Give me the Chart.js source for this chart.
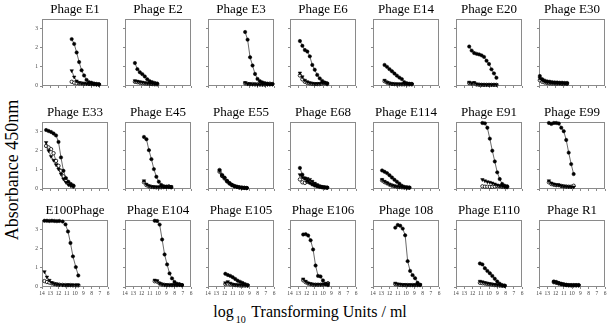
<!DOCTYPE html>
<html>
<head>
<meta charset="utf-8">
<script src="https://cdn.jsdelivr.net/npm/chart.js@4.4.0/dist/chart.umd.min.js"></script>
<style>
  html, body { margin: 0; padding: 0; background: #fff; }
  #wrap { position: relative; width: 608px; height: 330px; overflow: hidden; font-family: 'Liberation Serif', 'Times New Roman', serif; }
  #wrap canvas { position: absolute; }
  .axis-title { position: absolute; color: #000; white-space: nowrap; }
  #yTitle { left: -88px; top: 160px; width: 200px; height: 20px; line-height: 20px; text-align: center; transform: rotate(-90deg); font-size: 18px; }
  #xTitle { left: 0; top: 303px; width: 620px; text-align: center; font-size: 16px; }
  #xTitle sub { font-size: 10px; vertical-align: -6px; margin: 0 2px; }
</style>
</head>
<body>
<div id="wrap">
  <div class="axis-title" id="yTitle">Absorbance 450nm</div>
  <div class="axis-title" id="xTitle">log<sub>10</sub> Transforming Units / ml</div>
</div>
<script>
// panel titles, left to right, top to bottom
const panelTitles = [
  'Phage E1', 'Phage E2', 'Phage E3', 'Phage E6', 'Phage E14', 'Phage E20', 'Phage E30',
  'Phage E33', 'Phage E45', 'Phage E55', 'Phage E68', 'Phage E114', 'Phage E91', 'Phage E99',
  'E100Phage', 'Phage E104', 'Phage E105', 'Phage E106', 'Phage 108', 'Phage E110', 'Phage R1'
];

// log10 transforming units / ml for each panel
const doseValues = [
  [10.4, 10.1, 9.8, 9.5, 9.2, 8.9, 8.6, 8.3, 8.0, 7.7, 7.4, 7.1],
  [12.8, 12.5, 12.2, 11.9, 11.6, 11.3, 11.0, 10.7, 10.4, 10.1],
  [9.5, 9.2, 8.9, 8.6, 8.3, 8.0, 7.7, 7.4, 7.1, 6.8, 6.5, 6.2],
  [12.8, 12.5, 12.2, 11.9, 11.6, 11.3, 11.0, 10.7, 10.4, 10.1, 9.8, 9.5],
  [12.6, 12.3, 12.0, 11.7, 11.4, 11.1, 10.8, 10.5, 10.2, 9.9, 9.6, 9.3],
  [12.4, 12.1, 11.8, 11.5, 11.2, 10.9, 10.6, 10.3, 10.0, 9.7, 9.4, 9.1],
  [13.9, 13.6, 13.3, 13.0, 12.7, 12.4, 12.1, 11.8, 11.5, 11.2, 10.9, 10.6],
  [13.5, 13.2, 12.9, 12.6, 12.3, 12.0, 11.7, 11.4, 11.1, 10.8, 10.5, 10.2],
  [11.7, 11.4, 11.1, 10.8, 10.5, 10.2, 9.9, 9.6, 9.3, 9.0, 8.7, 8.4],
  [12.6, 12.3, 12.0, 11.7, 11.4, 11.1, 10.8, 10.5, 10.2, 9.9, 9.6, 9.3],
  [12.8, 12.5, 12.2, 11.9, 11.6, 11.3, 11.0, 10.7, 10.4, 10.1, 9.8, 9.5],
  [12.9, 12.6, 12.3, 12.0, 11.7, 11.4, 11.1, 10.8, 10.5, 10.2, 9.9, 9.6],
  [10.8, 10.5, 10.2, 9.9, 9.6, 9.3, 9.0, 8.7, 8.4, 8.1, 7.8],
  [12.8, 12.5, 12.2, 11.9, 11.6, 11.3, 11.0, 10.7, 10.4, 10.1, 9.8],
  [13.7, 13.4, 13.1, 12.8, 12.5, 12.2, 11.9, 11.5, 11.15, 10.85, 10.55, 10.25, 9.9, 9.6],
  [10.4, 10.1, 9.8, 9.5, 9.2, 8.9, 8.6, 8.3, 8.0, 7.7, 7.4, 7.1],
  [11.9, 11.6, 11.3, 11.0, 10.7, 10.4, 10.1, 9.8, 9.5, 9.2],
  [12.4, 12.1, 11.8, 11.5, 11.2, 10.9, 10.6, 10.3, 10.0, 9.7, 9.4],
  [11.3, 11.0, 10.7, 10.4, 10.1, 9.8, 9.5, 9.2, 8.9, 8.6, 8.3],
  [11.1, 10.8, 10.5, 10.2, 9.9, 9.6, 9.3, 9.0, 8.7, 8.4, 8.1],
  [12.2, 11.9, 11.6, 11.3, 11.0, 10.7, 10.4, 10.1, 9.8, 9.5, 9.2]
];

// absorbance, filled circles
const filledValues = [
  [2.45, 2.2, 1.75, 1.25, 0.82, 0.55, 0.32, 0.2, 0.17, 0.13, 0.11, 0.09],
  [1.2, 0.88, 0.72, 0.62, 0.5, 0.35, 0.25, 0.2, 0.16, 0.13],
  [2.82, 2.42, 1.5, 1.07, 0.63, 0.37, 0.25, 0.19, 0.15, 0.12, 0.1, 0.1],
  [2.35, 2.1, 1.88, 1.8, 1.55, 1.1, 0.85, 0.58, 0.4, 0.27, 0.18, 0.14],
  [1.1, 1.0, 0.88, 0.77, 0.65, 0.54, 0.44, 0.36, 0.2, 0.14, 0.12, 0.11],
  [2.06, 1.85, 1.72, 1.68, 1.65, 1.6, 1.52, 1.32, 1.15, 0.87, 0.66, 0.43],
  [0.52, 0.35, 0.28, 0.24, 0.22, 0.2, 0.19, 0.18, 0.17, 0.17, 0.16, 0.16],
  [3.08, 3.03, 2.98, 2.9, 2.8, 2.46, 1.65, 0.95, 0.57, 0.38, 0.26, 0.18],
  [2.72, 2.6, 2.03, 1.56, 1.04, 0.64, 0.38, 0.21, 0.14, 0.12, 0.1, 0.09],
  [1.0, 0.74, 0.6, 0.43, 0.31, 0.22, 0.16, 0.12, 0.09, 0.07, 0.06, 0.05],
  [1.1, 0.75, 0.55, 0.42, 0.32, 0.24, 0.18, 0.14, 0.11, 0.09, 0.08, 0.07],
  [0.97, 0.9, 0.83, 0.72, 0.6, 0.48, 0.38, 0.28, 0.17, 0.11, 0.08, 0.07],
  [3.45, 3.43, 3.2, 2.63, 2.0, 1.44, 0.87, 0.52, 0.26, 0.17, 0.14],
  [3.45, 3.4, 3.45, 3.45, 3.42, 3.2, 3.02, 2.56, 1.9, 1.3, 0.78],
  [3.46, 3.46, 3.45, 3.46, 3.45, 3.44, 3.45, 3.42, 3.27, 2.9, 2.3, 1.6, 1.04, 0.6],
  [3.46, 3.45, 3.26, 2.48, 1.7, 1.18, 0.71, 0.45, 0.26, 0.17, 0.14, 0.1],
  [0.69, 0.63, 0.58, 0.51, 0.42, 0.33, 0.27, 0.21, 0.15, 0.1],
  [2.74, 2.76, 2.69, 2.44, 1.96, 1.12, 0.58, 0.55, 0.34, 0.16, 0.1],
  [3.1, 3.24, 3.2, 3.05, 2.7, 1.35, 0.84, 0.62, 0.46, 0.22, 0.12],
  [1.23, 1.18, 0.98, 0.84, 0.72, 0.58, 0.43, 0.29, 0.17, 0.1, 0.07],
  [0.29, 0.26, 0.21, 0.17, 0.14, 0.12, 0.1, 0.1, 0.1, 0.1, 0.1]
];

// absorbance, triangles
const triangleValues = [
  [0.8, 0.47, 0.26, 0.18, 0.15, 0.13, 0.12, 0.11, 0.1, 0.09, 0.08, 0.08],
  [0.28, 0.25, 0.22, 0.2, 0.17, 0.15, 0.13, 0.12, 0.11, 0.1],
  [0.18, 0.12, 0.1, 0.09, 0.09, 0.08, 0.08, 0.08, 0.08, 0.08, 0.08, 0.09],
  [0.68, 0.48, 0.3, 0.22, 0.17, 0.14, 0.12, 0.12, 0.13, 0.16, 0.18, 0.12],
  [0.3, 0.2, 0.15, 0.12, 0.11, 0.1, 0.1, 0.1, 0.1, 0.1, 0.1, 0.1],
  [0.2, 0.15, 0.18, 0.1, 0.08, 0.08, 0.07, 0.07, 0.07, 0.07, 0.07, 0.07],
  [0.4, 0.3, 0.24, 0.2, 0.18, 0.17, 0.16, 0.15, 0.15, 0.14, 0.14, 0.14],
  [2.43, 2.0, 1.7, 1.5, 1.27, 1.04, 0.78, 0.52, 0.35, 0.22, 0.17, 0.14],
  [0.43, 0.25, 0.17, 0.13, 0.11, 0.1, 0.1, 0.1, 0.11, 0.12, 0.13, 0.12],
  [0.95, 0.7, 0.57, 0.41, 0.3, 0.21, 0.15, 0.11, 0.09, 0.07, 0.06, 0.05],
  [0.75, 0.62, 0.58, 0.55, 0.5, 0.4, 0.3, 0.22, 0.16, 0.12, 0.1, 0.08],
  [0.5, 0.4, 0.32, 0.25, 0.2, 0.16, 0.13, 0.11, 0.1, 0.09, 0.08, 0.08],
  [0.49, 0.43, 0.38, 0.35, 0.31, 0.26, 0.21, 0.17, 0.14, 0.12, 0.1],
  [0.43, 0.31, 0.26, 0.22, 0.21, 0.17, 0.14, 0.13, 0.12, 0.11, 0.1],
  [0.8, 0.52, 0.35, 0.23, 0.17, 0.14, 0.12, 0.11, 0.1, 0.1, 0.1, 0.1, 0.1, 0.1],
  [0.36, 0.33, 0.2, 0.15, 0.12, 0.11, 0.1, 0.1, 0.1, 0.1, 0.1, 0.1],
  [0.22, 0.28, 0.2, 0.14, 0.12, 0.1, 0.1, 0.09, 0.09, 0.08],
  [0.42, 0.3, 0.21, 0.17, 0.14, 0.13, 0.13, 0.13, 0.14, 0.16, 0.18],
  [0.2, 0.16, 0.14, 0.12, 0.12, 0.11, 0.11, 0.11, 0.11, 0.11, 0.12],
  [0.3, 0.27, 0.23, 0.2, 0.17, 0.15, 0.13, 0.11, 0.09, 0.08, 0.07],
  [0.27, 0.24, 0.2, 0.16, 0.13, 0.11, 0.1, 0.09, 0.09, 0.09, 0.09]
];

// absorbance, open circles
const openValues = [
  [0.22, 0.17, 0.15, 0.14, 0.13, 0.12, 0.12, 0.11, 0.1, 0.1, 0.09, 0.08],
  [0.22, 0.2, 0.17, 0.15, 0.13, 0.12, 0.11, 0.1, 0.09, 0.09],
  [0.14, 0.11, 0.1, 0.1, 0.09, 0.09, 0.09, 0.08, 0.08, 0.1, 0.12, 0.1],
  [0.55, 0.35, 0.22, 0.16, 0.13, 0.11, 0.1, 0.1, 0.1, 0.12, 0.14, 0.1],
  [0.25, 0.18, 0.14, 0.11, 0.1, 0.09, 0.09, 0.09, 0.09, 0.09, 0.09, 0.09],
  [0.15, 0.12, 0.14, 0.08, 0.07, 0.06, 0.06, 0.06, 0.06, 0.06, 0.06, 0.06],
  [0.3, 0.22, 0.18, 0.16, 0.14, 0.13, 0.12, 0.12, 0.12, 0.11, 0.11, 0.11],
  [2.25, 2.17, 2.08, 1.87, 1.47, 1.21, 0.95, 0.66, 0.43, 0.29, 0.2, 0.14],
  [0.35, 0.2, 0.14, 0.11, 0.1, 0.09, 0.09, 0.09, 0.1, 0.11, 0.14, 0.1],
  [0.9, 0.68, 0.55, 0.4, 0.29, 0.2, 0.14, 0.11, 0.08, 0.07, 0.06, 0.05],
  [0.5, 0.35, 0.32, 0.38, 0.4, 0.33, 0.25, 0.18, 0.13, 0.1, 0.08, 0.07],
  [0.45, 0.36, 0.3, 0.23, 0.18, 0.15, 0.12, 0.1, 0.09, 0.08, 0.08, 0.07],
  [0.14, 0.12, 0.12, 0.11, 0.11, 0.13, 0.15, 0.14, 0.12, 0.11, 0.1],
  [0.35, 0.26, 0.22, 0.2, 0.2, 0.16, 0.14, 0.13, 0.12, 0.12, 0.17],
  [0.31, 0.26, 0.23, 0.19, 0.16, 0.14, 0.12, 0.11, 0.1, 0.1, 0.1, 0.09, 0.09, 0.09],
  [0.3, 0.28, 0.18, 0.13, 0.11, 0.1, 0.1, 0.1, 0.1, 0.1, 0.12, 0.1],
  [0.15, 0.18, 0.14, 0.12, 0.1, 0.09, 0.08, 0.08, 0.08, 0.08],
  [0.35, 0.25, 0.18, 0.15, 0.12, 0.12, 0.12, 0.12, 0.13, 0.15, 0.2],
  [0.15, 0.12, 0.11, 0.1, 0.1, 0.1, 0.1, 0.1, 0.1, 0.1, 0.1],
  [0.22, 0.2, 0.18, 0.16, 0.14, 0.12, 0.1, 0.09, 0.08, 0.07, 0.06],
  [0.25, 0.22, 0.18, 0.15, 0.12, 0.1, 0.09, 0.09, 0.09, 0.09, 0.09]
];

const xMin = 6, xMax = 14;   // log10 axis, drawn reversed
const yMin = 0, yMax = 3.5;

// grid layout
const nCols = 7;
const boxLeft0 = 42, colPitch = 82.8;
const rowTops = [19, 122, 220];
const plotW = 66, plotH = 67;
const sideW = 12, xAxisH = 12, titleH = 16;

const serif = "'Liberation Serif', 'Times New Roman', serif";
const axisGray = '#8a8a8a';

const framePlugin = {
  id: 'frame',
  beforeDatasetsDraw(chart) {
    const a = chart.chartArea;
    const ctx = chart.ctx;
    ctx.save();
    ctx.strokeStyle = axisGray;
    ctx.lineWidth = 1;
    ctx.strokeRect(Math.round(a.left) + 0.5, Math.round(a.top) + 0.5, Math.round(a.width) - 1, Math.round(a.height) - 1);
    ctx.restore();
  }
};

function points(xs, ys) {
  return xs.map((x, i) => ({ x: x, y: ys[i] }));
}

const wrap = document.getElementById('wrap');

panelTitles.forEach((title, i) => {
  const col = i % nCols;
  const row = Math.floor(i / nCols);
  const boxLeft = Math.round(boxLeft0 + col * colPitch);

  const canvas = document.createElement('canvas');
  canvas.width = sideW + plotW + sideW;
  canvas.height = titleH + plotH + xAxisH;
  canvas.style.left = (boxLeft - sideW) + 'px';
  canvas.style.top = (rowTops[row] - titleH) + 'px';
  wrap.appendChild(canvas);

  const xs = doseValues[i];

  new Chart(canvas, {
    type: 'line',
    data: {
      datasets: [
        {
          label: 'filled',
          data: points(xs, filledValues[i]),
          borderColor: '#444',
          borderWidth: 0.8,
          pointStyle: 'circle',
          pointRadius: 1.7,
          pointBackgroundColor: '#000',
          pointBorderColor: '#000',
          pointBorderWidth: 0.5,
          clip: false
        },
        {
          label: 'triangle',
          data: points(xs, triangleValues[i]),
          borderColor: '#444',
          borderWidth: 0.8,
          pointStyle: 'triangle',
          pointRotation: 180,
          pointRadius: 2,
          pointBackgroundColor: '#000',
          pointBorderColor: '#000',
          pointBorderWidth: 0.5,
          clip: false
        },
        {
          label: 'open',
          data: points(xs, openValues[i]),
          borderColor: '#444',
          borderWidth: 0.8,
          pointStyle: 'circle',
          pointRadius: 1.7,
          pointBackgroundColor: '#fff',
          pointBorderColor: '#000',
          pointBorderWidth: 0.8,
          clip: false
        }
      ]
    },
    options: {
      responsive: false,
      animation: false,
      devicePixelRatio: 1,
      layout: { padding: 0 },
      plugins: {
        legend: { display: false },
        tooltip: { enabled: false },
        title: {
          display: true,
          text: title,
          color: '#000',
          font: { family: serif, size: 13, weight: 'normal', lineHeight: 1 },
          padding: { top: 0, bottom: 3 }
        }
      },
      scales: {
        x: {
          type: 'linear',
          reverse: true,
          min: xMin,
          max: xMax,
          border: { display: false },
          grid: { drawOnChartArea: false, drawTicks: true, tickLength: 2, color: axisGray },
          ticks: {
            display: row === 2,
            stepSize: 1,
            padding: 1,
            color: '#444',
            maxRotation: 0,
            autoSkip: false,
            font: { family: serif, size: 5.5 }
          },
          afterFit: s => { s.height = xAxisH; }
        },
        y: {
          min: yMin,
          max: yMax,
          border: { display: false },
          grid: { drawOnChartArea: false, drawTicks: true, tickLength: 2, color: axisGray },
          ticks: {
            display: col === 0,
            stepSize: 1,
            includeBounds: false,
            padding: 2,
            color: '#444',
            font: { family: serif, size: 5.5 }
          },
          afterFit: s => { s.width = sideW; }
        },
        // empty right-hand axis keeps the plot centred under its title
        yRight: {
          axis: 'y',
          position: 'right',
          min: yMin,
          max: yMax,
          border: { display: false },
          grid: { display: false },
          ticks: { display: false },
          afterFit: s => { s.width = sideW; }
        }
      }
    },
    plugins: [framePlugin]
  });
});
</script>
</body>
</html>
